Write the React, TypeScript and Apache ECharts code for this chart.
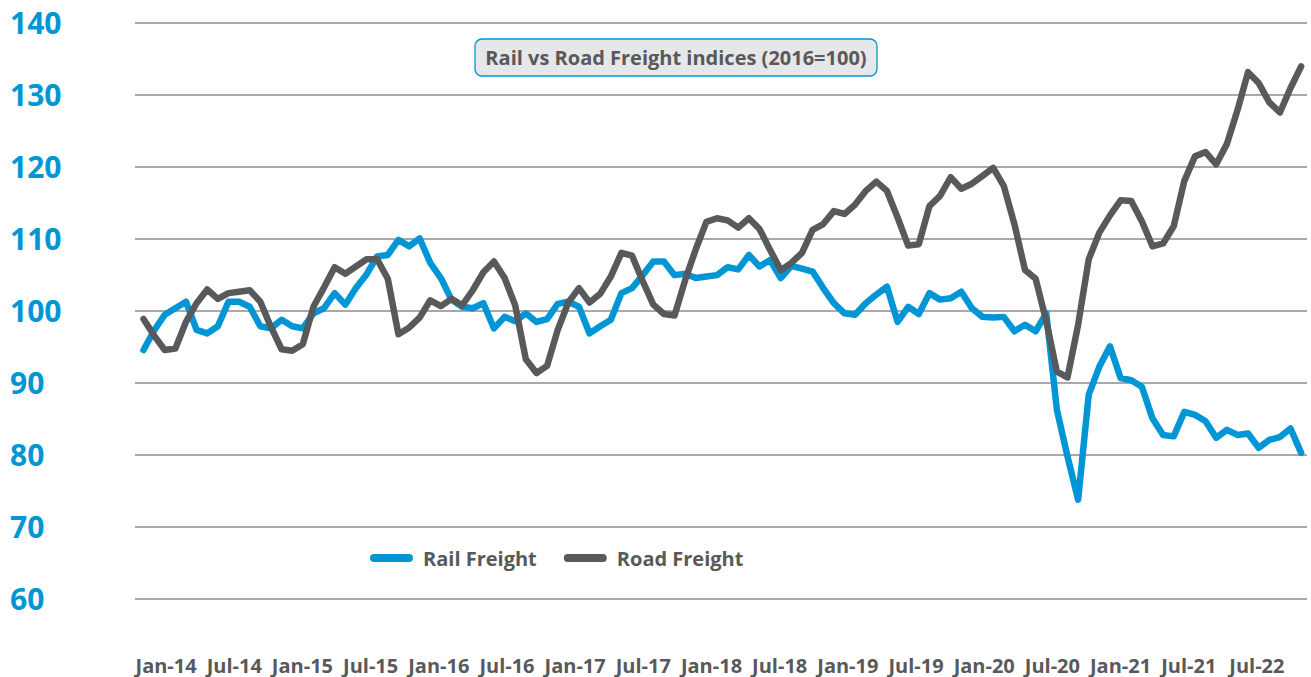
import React, { useEffect, useRef } from "react";
import * as echarts from "echarts";

const tickLabels = [
  "Jan-14", "Jul-14", "Jan-15", "Jul-15", "Jan-16", "Jul-16", "Jan-17", "Jul-17",
  "Jan-18", "Jul-18", "Jan-19", "Jul-19", "Jan-20", "Jul-20", "Jan-21", "Jul-21", "Jul-22",
];

const railFreight = [
  94.5, 97.2, 99.4, 100.3, 101.2, 97.3, 96.8, 97.8, 101.2, 101.2,
  100.5, 97.8, 97.5, 98.7, 97.8, 97.5, 99.6, 100.3, 102.4, 100.8,
  103.1, 105.0, 107.5, 107.7, 109.8, 108.9, 110.0, 106.6, 104.5, 101.5,
  100.5, 100.3, 101.0, 97.5, 99.1, 98.5, 99.6, 98.4, 98.8, 100.9,
  101.2, 100.5, 96.8, 97.8, 98.7, 102.4, 103.1, 104.9, 106.8, 106.8,
  104.9, 105.1, 104.5, 104.7, 104.9, 106.0, 105.7, 107.7, 106.1, 107.0,
  104.5, 106.2, 105.8, 105.4, 103.1, 101.0, 99.6, 99.4, 101.0, 102.2,
  103.3, 98.4, 100.5, 99.5, 102.4, 101.5, 101.7, 102.6, 100.3, 99.1,
  99.0, 99.1, 97.1, 98.0, 97.1, 99.6, 86.2, 79.7, 73.7, 88.3,
  92.2, 95.0, 90.6, 90.3, 89.4, 85.0, 82.7, 82.5, 85.9, 85.5,
  84.6, 82.3, 83.4, 82.7, 82.9, 80.9, 82.0, 82.4, 83.6, 80.2,
];

const roadFreight = [
  98.8, 96.5, 94.5, 94.7, 98.4, 101.0, 102.9, 101.6, 102.4, 102.6,
  102.8, 101.2, 97.7, 94.6, 94.4, 95.3, 100.5, 103.2, 106.0, 105.1,
  106.1, 107.1, 107.1, 104.4, 96.7, 97.6, 99.0, 101.4, 100.6, 101.6,
  100.7, 102.8, 105.3, 106.8, 104.5, 100.7, 93.2, 91.3, 92.3, 97.3,
  101.1, 103.1, 101.1, 102.3, 104.7, 108.0, 107.6, 104.1, 100.8, 99.5,
  99.3, 104.2, 108.5, 112.3, 112.8, 112.5, 111.5, 112.8, 111.3, 108.4,
  105.6, 106.6, 108.0, 111.2, 112.0, 113.8, 113.4, 114.7, 116.6, 117.9,
  116.6, 112.9, 109.0, 109.2, 114.5, 115.9, 118.5, 116.9, 117.6, 118.7,
  119.8, 117.3, 112.0, 105.6, 104.4, 98.5, 91.5, 90.7, 98.0, 107.1,
  110.8, 113.2, 115.3, 115.2, 112.4, 108.9, 109.3, 111.7, 118.0, 121.4,
  122.0, 120.3, 123.1, 127.8, 133.1, 131.6, 128.9, 127.5, 130.9, 133.9,
];

const BLUE = "#0096D6";
const GRAY = "#58595B";
const GRID = "#A7A9AC";
const FONT = "'Open Sans', 'Noto Sans', sans-serif";

export default function App() {
  const ref = useRef<HTMLDivElement>(null);

  useEffect(() => {
    if (!ref.current) return;
    const chart = echarts.init(ref.current, undefined, { renderer: "svg" });
    const n = railFreight.length;
    chart.setOption({
      animation: false,
      backgroundColor: "#ffffff",
      grid: [
        { left: 135, right: 4, top: 22.5, bottom: 78.7 },
        { left: 132, right: 20, top: 600, bottom: 28 },
      ],
      xAxis: [
        { type: "value", gridIndex: 0, min: -0.8, max: n - 1 + 0.55, show: false },
        {
          type: "category",
          gridIndex: 1,
          data: tickLabels,
          boundaryGap: true,
          axisLine: { show: false },
          axisTick: { show: false },
          splitLine: { show: false },
          axisLabel: {
            interval: 0,
            color: GRAY,
            fontSize: 20,
            lineHeight: 20,
            fontWeight: "bold",
            fontFamily: FONT,
            margin: 6,
          },
        },
      ],
      yAxis: [
        {
          type: "value",
          gridIndex: 0,
          min: 60,
          max: 140,
          interval: 10,
          axisLine: { show: false },
          axisTick: { show: false },
          splitLine: { lineStyle: { color: GRID, width: 2 } },
          axisLabel: {
            color: BLUE,
            fontSize: 30,
            fontWeight: "bold",
            fontFamily: FONT,
            align: "left",
            margin: 125,
            padding: [0, 0, 8, 0],
          },
        },
        { type: "value", gridIndex: 1, show: false },
      ],
      legend: {
        left: 365,
        top: 543,
        itemWidth: 43,
        itemHeight: 8,
        itemGap: 27,
        icon: "path://M4,0 H39 A4,4 0 0 1 39,8 H4 A4,4 0 0 1 4,0 Z",
        textStyle: {
          color: GRAY,
          fontSize: 20,
          fontWeight: "bold",
          fontFamily: FONT,
          padding: [0, 0, 0, 5],
        },
        data: ["Rail Freight", "Road Freight"],
      },
      graphic: [
        {
          type: "rect",
          shape: { x: 475, y: 39, width: 402, height: 37, r: 7 },
          style: { fill: "#E6E7E8", stroke: BLUE, lineWidth: 1.3 },
        },
        {
          type: "text",
          x: 676,
          y: 57.5,
          style: {
            text: "Rail vs Road Freight indices (2016=100)",
            fill: GRAY,
            font: `bold 20px ${FONT}`,
            textAlign: "center",
            textVerticalAlign: "middle",
          },
        },
      ],
      series: [
        {
          name: "Rail Freight",
          type: "line",
          xAxisIndex: 0,
          yAxisIndex: 0,
          data: railFreight.map((v, i) => [i, v]),
          showSymbol: false,
          symbol: "none",
          color: BLUE,
          lineStyle: { color: BLUE, width: 6.5, cap: "round", join: "round" },
          z: 2,
        },
        {
          name: "Road Freight",
          type: "line",
          xAxisIndex: 0,
          yAxisIndex: 0,
          data: roadFreight.map((v, i) => [i, v]),
          showSymbol: false,
          symbol: "none",
          color: GRAY,
          lineStyle: { color: GRAY, width: 6.5, cap: "round", join: "round" },
          z: 3,
        },
      ],
    });
    return () => chart.dispose();
  }, []);

  return (
    <div
      ref={ref}
      style={{ position: "fixed", left: 0, top: 0, width: 1311, height: 677 }}
    />
  );
}
